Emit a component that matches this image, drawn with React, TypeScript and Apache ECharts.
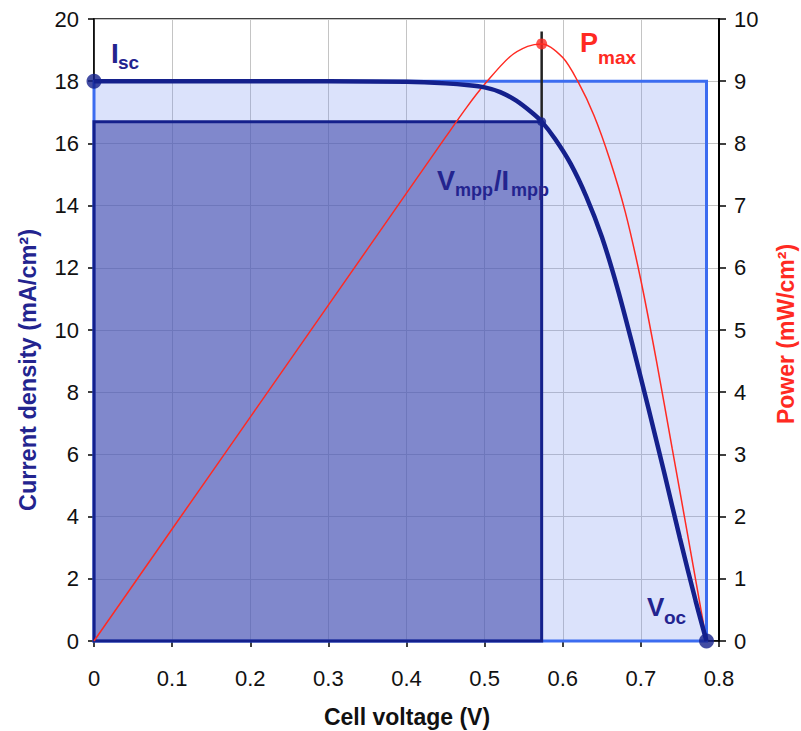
import React, { useEffect, useRef } from "react";
import * as echarts from "echarts";

// ---- data ----
const ivVoltage = [0, 0.1, 0.2, 0.3, 0.4, 0.45, 0.48, 0.5, 0.52, 0.54, 0.56, 0.573, 0.59, 0.61, 0.63, 0.65, 0.67, 0.69, 0.71, 0.73, 0.75, 0.77, 0.784];
const ivCurrent = [18, 18, 18, 18, 17.98, 17.93, 17.87, 17.8, 17.65, 17.38, 17.0, 16.7, 16.15, 15.35, 14.3, 13.0, 11.35, 9.45, 7.45, 5.4, 3.3, 1.3, 0];

const pVoltage = [0, 0.1, 0.2, 0.3, 0.4, 0.45, 0.477, 0.5, 0.532, 0.555, 0.573, 0.6, 0.62, 0.64, 0.66, 0.68, 0.7, 0.72, 0.74, 0.76, 0.784];
const pPower = [0, 1.8, 3.6, 5.4, 7.2, 8.1, 8.58, 8.95, 9.39, 9.56, 9.6, 9.38, 8.98, 8.45, 7.75, 6.9, 5.8, 4.5, 3.1, 1.7, 0];

const isc = 18;
const voc = 0.784;
const vmpp = 0.573;
const impp = 16.7;
const pmax = 9.6;
const pmaxLineTop = 9.8;

const xTitle = "Cell voltage (V)";
const yLeftTitle = "Current density (mA/cm²)";
const yRightTitle = "Power (mW/cm²)";

const NAVY = "#14208c";
const LABEL_NAVY = "#23248f";
const RED = "#ff2a22";
const FONT = "'Liberation Sans', Arial, Helvetica, sans-serif";

export default function App() {
  const ref = useRef<HTMLDivElement>(null);

  useEffect(() => {
    if (!ref.current) return;
    document.body.style.margin = "0";
    const chart = echarts.init(ref.current, undefined, { renderer: "svg" });

    const ivData = ivVoltage.map((v, i) => [v, ivCurrent[i]]);
    const pData = pVoltage.map((v, i) => [v, pPower[i]]);

    const labelText = (x: number, y: number, text: string, size: number, color: string) => ({
      type: "text",
      x,
      y,
      z: 100,
      silent: true,
      style: {
        text,
        fontSize: size,
        fontWeight: "bold",
        fontFamily: FONT,
        fill: color,
        align: "left",
        verticalAlign: "middle",
      },
    });

    const option: any = {
      animation: false,
      backgroundColor: "#ffffff",
      grid: {
        left: 94,
        right: 82,
        top: 19,
        bottom: 90,
        show: true,
        borderColor: "#000",
        borderWidth: 1.5,
        backgroundColor: "transparent",
      },
      xAxis: {
        type: "value",
        min: 0,
        max: 0.8,
        interval: 0.1,
        axisLine: { show: true, onZero: false, lineStyle: { color: "#000", width: 1.5 } },
        axisTick: { show: true, length: 6, lineStyle: { color: "#000", width: 1.5 } },
        axisLabel: {
          margin: 26,
          fontSize: 22,
          color: "#111",
          fontFamily: FONT,
          formatter: (v: number) => (v === 0 ? "0" : v.toFixed(1)),
        },
        splitLine: { show: true, lineStyle: { color: "#c4c4c4", width: 1 } },
      },
      yAxis: [
        {
          type: "value",
          min: 0,
          max: 20,
          interval: 2,
          position: "left",
          axisLine: { show: true, lineStyle: { color: "#000", width: 1.5 } },
          axisTick: { show: true, length: 6, lineStyle: { color: "#000", width: 1.5 } },
          axisLabel: { margin: 15, fontSize: 22, color: "#111", fontFamily: FONT },
          splitLine: { show: true, lineStyle: { color: "#c4c4c4", width: 1 } },
        },
        {
          type: "value",
          min: 0,
          max: 10,
          interval: 1,
          position: "right",
          axisLine: { show: true, lineStyle: { color: "#000", width: 2 } },
          axisTick: { show: true, length: 7, lineStyle: { color: "#000", width: 1.5 } },
          axisLabel: { margin: 15, fontSize: 22, color: "#111", fontFamily: FONT },
          splitLine: { show: false },
        },
      ],
      series: [
        {
          type: "line",
          name: "rects",
          data: [[0, 0], [voc, isc]],
          symbol: "none",
          lineStyle: { opacity: 0 },
          silent: true,
          z: 1,
          markArea: {
            silent: true,
            data: [
              [
                { coord: [0, 0], itemStyle: { color: "rgba(111,139,239,0.25)", borderColor: "#3c6cf0", borderWidth: 3 } },
                { coord: [voc, isc] },
              ],
              [
                { coord: [0, 0], itemStyle: { color: "rgba(67,76,173,0.6)", borderColor: NAVY, borderWidth: 3 } },
                { coord: [vmpp, impp] },
              ],
            ],
          },
        },
        {
          type: "line",
          name: "Pmax line",
          yAxisIndex: 1,
          data: [[vmpp, impp / 2], [vmpp, pmaxLineTop]],
          symbol: "none",
          lineStyle: { color: "#222", width: 2.5 },
          z: 3,
          silent: true,
        },
        {
          type: "line",
          name: "Power",
          yAxisIndex: 1,
          data: pData,
          smooth: 0.3,
          symbol: "none",
          lineStyle: { color: RED, width: 1.5 },
          z: 4,
          silent: true,
        },
        {
          type: "line",
          name: "Current density",
          yAxisIndex: 0,
          data: ivData,
          smooth: 0.3,
          symbol: "none",
          lineStyle: { color: NAVY, width: 4.5 },
          z: 5,
          silent: true,
        },
        {
          type: "scatter",
          name: "Isc/Voc",
          yAxisIndex: 0,
          data: [[0, isc], [voc, 0]],
          symbolSize: 15,
          itemStyle: { color: NAVY },
          z: 6,
          silent: true,
        },
        {
          type: "scatter",
          name: "MPP",
          yAxisIndex: 0,
          data: [[vmpp, impp]],
          symbolSize: 9,
          itemStyle: { color: NAVY },
          z: 6,
          silent: true,
        },
        {
          type: "scatter",
          name: "Pmax",
          yAxisIndex: 1,
          data: [[vmpp, pmax]],
          symbolSize: 11,
          itemStyle: { color: RED },
          z: 6,
          silent: true,
        },
      ],
      graphic: [
        {
          type: "text",
          x: 407,
          y: 717,
          z: 100,
          silent: true,
          style: { text: xTitle, fontSize: 23, fontWeight: "bold", fontFamily: FONT, fill: "#111", align: "center", verticalAlign: "middle" },
        },
        {
          type: "text",
          x: 28,
          y: 370,
          z: 100,
          rotation: Math.PI / 2,
          silent: true,
          style: { text: yLeftTitle, fontSize: 23.5, fontWeight: "bold", fontFamily: FONT, fill: LABEL_NAVY, align: "center", verticalAlign: "middle" },
        },
        {
          type: "text",
          x: 786,
          y: 334,
          z: 100,
          rotation: Math.PI / 2,
          silent: true,
          style: { text: yRightTitle, fontSize: 23, fontWeight: "bold", fontFamily: FONT, fill: RED, align: "center", verticalAlign: "middle" },
        },
        labelText(111, 53, "I", 28, LABEL_NAVY),
        labelText(118, 62, "sc", 19, LABEL_NAVY),
        labelText(580, 43, "P", 27, RED),
        labelText(598, 57, "max", 19, RED),
        labelText(437, 181, "V", 27, LABEL_NAVY),
        labelText(455, 190, "mpp", 18, LABEL_NAVY),
        labelText(494, 181, "/I", 27, LABEL_NAVY),
        labelText(511, 190, "mpp", 18, LABEL_NAVY),
        labelText(647, 607, "V", 26, LABEL_NAVY),
        labelText(664, 617, "oc", 19, LABEL_NAVY),
      ],
    };

    chart.setOption(option);
    return () => chart.dispose();
  }, []);

  return <div ref={ref} style={{ width: 801, height: 731 }} />;
}
